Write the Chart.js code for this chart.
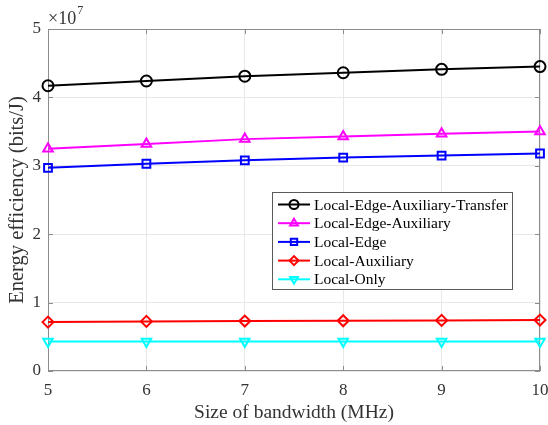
<!DOCTYPE html>
<html>
<head>
<meta charset="utf-8">
<script src="https://cdn.jsdelivr.net/npm/chart.js@4.4.1/dist/chart.umd.min.js"></script>
<style>
  html, body { margin: 0; padding: 0; background: #fff; }
  #wrap { width: 548px; height: 425px; }
</style>
</head>
<body>
<div id="wrap"><canvas id="chart" width="548" height="425"></canvas></div>
<script>
const bandwidths = [5, 6, 7, 8, 9, 10];
const yTicks = [0, 1, 2, 3, 4, 5];

// energy efficiency in bits/J
const localEdgeAuxTransfer = [4.17e7, 4.24e7, 4.31e7, 4.36e7, 4.41e7, 4.45e7];
const localEdgeAux = [3.25e7, 3.32e7, 3.39e7, 3.43e7, 3.47e7, 3.50e7];
const localEdge = [2.97e7, 3.03e7, 3.08e7, 3.12e7, 3.15e7, 3.18e7];
const localAux = [0.715e7, 0.725e7, 0.73e7, 0.735e7, 0.74e7, 0.745e7];
const localOnly = [0.43e7, 0.43e7, 0.43e7, 0.43e7, 0.43e7, 0.43e7];

const FONT = '"Liberation Serif", "DejaVu Serif", serif';
const AXIS_COLOR = '#8c8c8c';
const TEXT_COLOR = '#333333';

function series(label, values, color, style, rotation) {
    return {
        label: label,
        data: values.map((v, i) => ({ x: bandwidths[i], y: v })),
        borderColor: color,
        backgroundColor: color,
        borderWidth: 2,
        pointStyle: style,
        pointRotation: rotation || 0,
        pointRadius: 5.5,
        pointBorderWidth: 2,
        pointBackgroundColor: 'rgba(255,255,255,0)',
        pointBorderColor: color,
        tension: 0,
        clip: false,
    };
}

const datasets = [
    series('Local-Edge-Auxiliary-Transfer', localEdgeAuxTransfer, '#000000', 'circle'),
    series('Local-Edge-Auxiliary', localEdgeAux, '#ff00ff', 'triangle'),
    series('Local-Edge', localEdge, '#0000ff', 'rect'),
    series('Local-Auxiliary', localAux, '#ff0000', 'rectRot'),
    series('Local-Only', localOnly, '#00ffff', 'triangle', 180),
];

// box, inward ticks, exponent label and legend, matlab style
const matlabFrame = {
    id: 'matlabFrame',
    beforeDatasetsDraw(chart) {
        const ctx = chart.ctx;
        const area = chart.chartArea;
        const xs = chart.scales.x;
        const ys = chart.scales.y;
        ctx.save();
        ctx.strokeStyle = AXIS_COLOR;
        ctx.lineWidth = 1;
        ctx.strokeRect(area.left + 0.5, area.top + 0.5, area.right - area.left - 1, area.bottom - area.top - 1);

        ctx.beginPath();
        bandwidths.forEach(v => {
            const px = Math.round(xs.getPixelForValue(v)) + 0.5;
            ctx.moveTo(px, area.bottom);
            ctx.lineTo(px, area.bottom - 5);
            ctx.moveTo(px, area.top);
            ctx.lineTo(px, area.top + 5);
        });
        yTicks.forEach(v => {
            const py = Math.round(ys.getPixelForValue(v * 1e7)) + 0.5;
            ctx.moveTo(area.left, py);
            ctx.lineTo(area.left + 5, py);
            ctx.moveTo(area.right, py);
            ctx.lineTo(area.right - 5, py);
        });
        ctx.stroke();

        // exponent
        ctx.fillStyle = TEXT_COLOR;
        ctx.textBaseline = 'alphabetic';
        ctx.font = '18px ' + FONT;
        ctx.fillText('\u00d710', area.left, area.top - 5);
        const w = ctx.measureText('\u00d710').width;
        ctx.font = '12px ' + FONT;
        ctx.fillText('7', area.left + w + 1, area.top - 15);
        ctx.restore();
    },
    afterDraw(chart) {
        const ctx = chart.ctx;
        ctx.save();
        // legend
        const lx = 272;
        const ly = 192;
        const lw = 240;
        const lh = 97;
        ctx.fillStyle = '#ffffff';
        ctx.fillRect(lx, ly, lw, lh);
        ctx.strokeStyle = '#5a5a5a';
        ctx.lineWidth = 1;
        ctx.strokeRect(lx + 0.5, ly + 0.5, lw, lh);
        ctx.font = '15.5px ' + FONT;
        ctx.textBaseline = 'middle';
        chart.data.datasets.forEach((ds, i) => {
            const cy = ly + 12.5 + i * 18.7;
            ctx.strokeStyle = ds.borderColor;
            ctx.lineWidth = 2;
            ctx.beginPath();
            ctx.moveTo(lx + 6, cy);
            ctx.lineTo(lx + 38, cy);
            ctx.stroke();
            ctx.fillStyle = 'rgba(255,255,255,0)';
            Chart.helpers.drawPoint(ctx, {
                pointStyle: ds.pointStyle,
                rotation: ds.pointRotation,
                radius: 4.5,
                borderWidth: 2,
            }, lx + 22, cy);
            ctx.fillStyle = '#000000';
            ctx.fillText(ds.label, lx + 42, cy + 1);
        });
        ctx.restore();
    }
};

new Chart(document.getElementById('chart'), {
    type: 'line',
    data: { datasets: datasets },
    options: {
        responsive: false,
        animation: false,
        layout: { padding: { top: 29, right: 8, left: 0, bottom: 0 } },
        plugins: {
            legend: { display: false },
            tooltip: { enabled: false },
        },
        scales: {
            x: {
                type: 'linear',
                min: 5,
                max: 10,
                afterFit: scale => {
                    scale.height = 54;
                    scale.paddingLeft = 0;
                    scale.paddingRight = 0;
                },
                afterBuildTicks: scale => { scale.ticks = bandwidths.map(v => ({ value: v })); },
                grid: { color: '#e8e8e8', drawTicks: false },
                border: { display: false },
                ticks: {
                    color: TEXT_COLOR,
                    padding: 9,
                    maxRotation: 0,
                    font: { family: FONT, size: 17 },
                },
                title: {
                    display: true,
                    text: 'Size of bandwidth (MHz)',
                    color: TEXT_COLOR,
                    font: { family: FONT, size: 19.5 },
                    padding: { top: 2, bottom: 0 },
                },
            },
            y: {
                min: 0,
                max: 5e7,
                afterFit: scale => { scale.width = 48; },
                afterBuildTicks: scale => { scale.ticks = yTicks.map(v => ({ value: v * 1e7 })); },
                grid: { color: '#e8e8e8', drawTicks: false },
                border: { display: false },
                ticks: {
                    color: TEXT_COLOR,
                    padding: 7,
                    font: { family: FONT, size: 17 },
                    callback: v => String(v / 1e7),
                },
                title: {
                    display: true,
                    text: 'Energy efficiency (bits/J)',
                    color: TEXT_COLOR,
                    font: { family: FONT, size: 20.5 },
                    padding: { top: 5, bottom: 0 },
                },
            },
        },
    },
    plugins: [matlabFrame],
});
</script>
</body>
</html>
